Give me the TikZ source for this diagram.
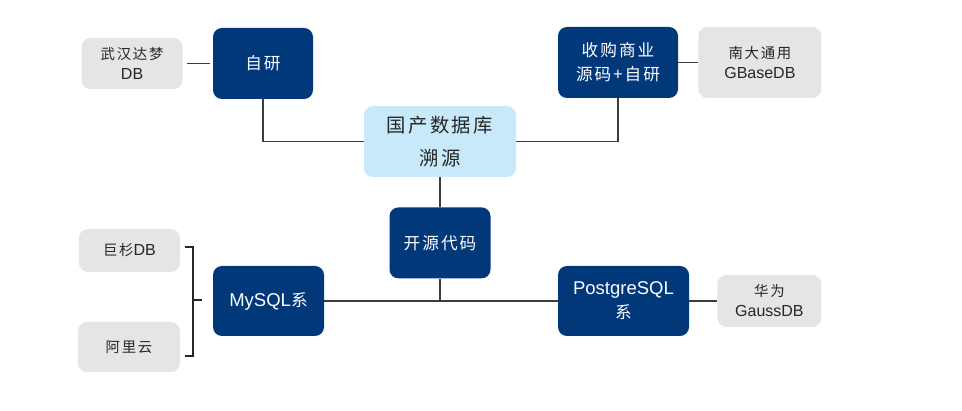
\documentclass[tikz,border=0pt]{standalone}
\usepackage{fontspec}
\setmainfont{Liberation Sans}
\newfontfamily\cjk[Scale=0.9,LetterSpace=12]{Noto Sans CJK SC}
\usepackage{tikz}
\usetikzlibrary{positioning,calc}
\newcommand{\zh}[1]{{\cjk #1}}
\definecolor{navy}{RGB}{0,56,122}
\definecolor{skyfill}{RGB}{199,233,249}
\definecolor{greyfill}{RGB}{229,229,229}
\definecolor{linegrey}{RGB}{60,60,60}

\begin{document}
\begin{tikzpicture}[x=1pt,y=-1pt,node distance=30pt,
  link/.style={draw=linegrey,line width=1.4pt},
  bracket/.style={draw=black!85,line width=2pt},
  bluebox/.style args={#1,#2}{rounded corners=9pt,fill=navy,text=white,align=center,
    inner sep=0pt,minimum width=#1pt,minimum height=#2pt,font=\fontsize{18.5}{24}\selectfont},
  greybox/.style args={#1,#2}{rounded corners=9pt,fill=greyfill,text=black!85,align=center,
    inner sep=0pt,minimum width=#1pt,minimum height=#2pt,font=\fontsize{16}{20}\selectfont},
  skybox/.style args={#1,#2}{rounded corners=9pt,fill=skyfill,text=black!85,align=center,
    inner sep=0pt,minimum width=#1pt,minimum height=#2pt,font=\fontsize{21.5}{33}\selectfont}]

  \useasboundingbox (0,0) rectangle (962,411);

  % centre and the three branches
  \node [skybox={152,71}] (gc) at (440,141.5) {\zh{国产数据库}\\\zh{溯源}};
  \node [bluebox={101,71},below=30pt of gc] (ky) {\zh{开源代码}};
  \node [bluebox={100,71}] (zy) at (263,63.5) {\zh{自研}};
  \node [bluebox={120,71}] (sg) at (618,62.5) {\zh{收购商业}\\\zh{源码+自研}};
  \node [bluebox={111,70}] (my) at (268.5,301) {MySQL\zh{系}};
  \node [bluebox={131,70}] (pg) at (623.5,301) {PostgreSQL\\\zh{系}};

  % products
  \node [greybox={101,51},left=30pt of zy] (wh) {\zh{武汉达梦}\\DB};
  \node [greybox={123,71},right=20pt of sg] (nd) {\zh{南大通用}\\GBaseDB};
  \node [greybox={104,52},right=28pt of pg] (hw) {\zh{华为}\\GaussDB};
  \node [greybox={101,43}] (js) at (129.5,250.5) {\zh{巨杉}DB};
  \node [greybox={102,50}] (al) at (129,347) {\zh{阿里云}};

  \draw[link] (zy) |- (gc);
  \draw[link] (sg) |- (gc);
  \draw[link] (gc) -- (ky);
  \draw[link] (my) -- (pg);
  \draw[link] (ky) -- (ky |- my);
  \draw[link,shorten <=4pt,shorten >=3pt] (wh) -- (zy);
  \draw[link] (sg) -- (nd);
  \draw[link] (pg) -- (hw);

  % bracket for the MySQL products
  \coordinate (bt) at (193,247);
  \coordinate (bb) at (193,356);
  \coordinate (bm) at (193,300);
  \draw[bracket] ($(bt)+(-8,0)$) -- (bt) -- (bb) -- ($(bb)+(-8,0)$);
  \draw[bracket] (bm) -- ++(9,0);

\end{tikzpicture}
\end{document}
